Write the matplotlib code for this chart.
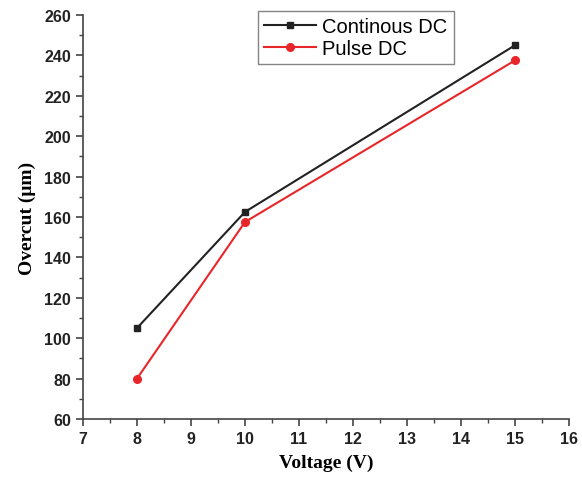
import matplotlib.pyplot as plt
from matplotlib.ticker import MultipleLocator

# data
voltage = [8, 10, 15]
continous_dc = [105, 162.5, 245]
pulse_dc = [80, 157.5, 237.5]

fig = plt.figure(figsize=(5.82, 4.81), dpi=100)
ax = fig.add_axes([0.1426, 0.1268, 0.835, 0.84])

ax.plot(voltage, continous_dc, color='#222222', marker='s', markersize=5, lw=1.5, label='Continous DC')
ax.plot(voltage, pulse_dc, color='#e8262a', marker='o', markersize=5.5, lw=1.5, label='Pulse DC')

ax.set_xlim(7, 16)
ax.set_ylim(60, 260)
ax.xaxis.set_major_locator(MultipleLocator(1))
ax.xaxis.set_minor_locator(MultipleLocator(0.5))
ax.yaxis.set_major_locator(MultipleLocator(20))
ax.yaxis.set_minor_locator(MultipleLocator(10))

for s in ['top', 'right']:
    ax.spines[s].set_visible(False)
for s in ['left', 'bottom']:
    ax.spines[s].set_color('#444444')
    ax.spines[s].set_linewidth(1.2)

ax.tick_params(which='major', direction='out', length=5, width=1.2, color='#444444')
ax.tick_params(which='minor', direction='out', length=3, width=1.0, color='#444444')
for lab in ax.get_xticklabels() + ax.get_yticklabels():
    lab.set_fontfamily('Liberation Sans')
    lab.set_fontweight('bold')
    lab.set_fontsize(11.5)
    lab.set_color('#222222')

ax.set_xlabel('Voltage (V)', fontfamily='Liberation Serif', fontweight='bold', fontsize=14, labelpad=6)
ax.set_ylabel('Overcut (\u03bcm)', fontfamily='Liberation Serif', fontweight='bold', fontsize=14, labelpad=6)

leg = ax.legend(loc='upper left', bbox_to_anchor=(0.36, 1.01), fancybox=False, edgecolor='#666666',
                prop={'family': 'Liberation Sans', 'size': 14.5}, handlelength=2.6,
                borderpad=0.3, labelspacing=0.15, handletextpad=0.3, borderaxespad=0)
leg.get_frame().set_linewidth(1.0)

fig.savefig('out.png', dpi=100)
